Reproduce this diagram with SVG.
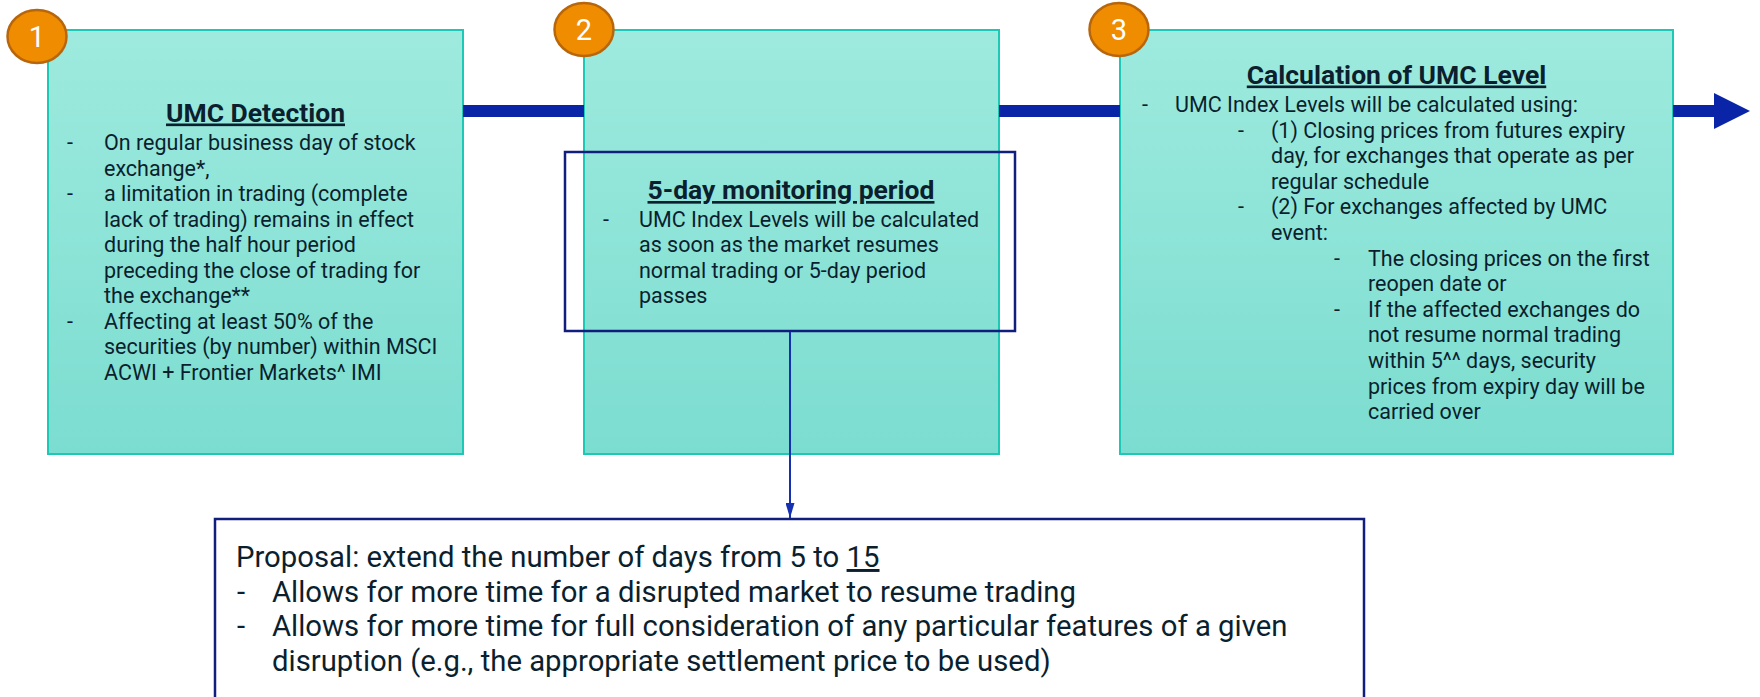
<svg xmlns="http://www.w3.org/2000/svg" width="1760" height="697" viewBox="0 0 1760 697">
  <style>
    .box { fill: url(#teal); stroke: #1ec8b6; stroke-width: 2; }
    .frame { fill: none; stroke: #101f7e; stroke-width: 2.5; }
    .badge { fill: #f08c00; stroke: #b8660c; stroke-width: 2.5; }
    .num { font-family: Roboto, "Liberation Sans", sans-serif; font-size: 29px; fill: #ffffff; text-anchor: middle; }
    .title { font-family: Roboto, "Liberation Sans", sans-serif; font-size: 26.5px; font-weight: bold; fill: #0b1f2e; text-anchor: middle; text-decoration: underline; }
    .body { font-family: Roboto, "Liberation Sans", sans-serif; font-size: 21.5px; fill: #0b1f2e; }
    .prop { font-family: Roboto, "Liberation Sans", sans-serif; font-size: 29.3px; fill: #0b1f2e; }
    .flow { stroke: #0a24a8; stroke-width: 12; fill: none; }
    .link { stroke: #1530b0; stroke-width: 2; fill: none; }
  </style>
  <defs>
    <linearGradient id="teal" x1="0" y1="0" x2="0" y2="1">
      <stop offset="0" stop-color="#9eeade"/>
      <stop offset="1" stop-color="#7bddd0"/>
    </linearGradient>
    <marker id="tip" viewBox="0 0 15 9" refX="15" refY="4.5" markerWidth="15" markerHeight="9" markerUnits="userSpaceOnUse" orient="auto">
      <path d="M0,0 L15,4.5 L0,9 Z" fill="#1530b0"/>
    </marker>
  </defs>

  <!-- step 1 -->
  <g id="step1">
    <rect class="box" x="48" y="30" width="415" height="424"/>
    <text class="title" x="255.5" y="121.5">UMC Detection</text>
    <g class="body">
      <text x="67" y="150">-</text>
      <text x="104" y="150">On regular business day of stock</text>
      <text x="104" y="175.5">exchange*,</text>
      <text x="67" y="201">-</text>
      <text x="104" y="201">a limitation in trading (complete</text>
      <text x="104" y="226.5">lack of trading) remains in effect</text>
      <text x="104" y="252">during the half hour period</text>
      <text x="104" y="277.5">preceding the close of trading for</text>
      <text x="104" y="303">the exchange**</text>
      <text x="67" y="328.5">-</text>
      <text x="104" y="328.5">Affecting at least 50% of the</text>
      <text x="104" y="354">securities (by number) within MSCI</text>
      <text x="104" y="379.5">ACWI + Frontier Markets^ IMI</text>
    </g>
    <ellipse class="badge" cx="37" cy="36.5" rx="29.5" ry="26.5"/>
    <text class="num" x="37" y="46.5">1</text>
  </g>

  <!-- step 2 -->
  <g id="step2">
    <rect class="box" x="584" y="30" width="415" height="424"/>
    <ellipse class="badge" cx="584" cy="29.5" rx="29.5" ry="26.5"/>
    <text class="num" x="584" y="39.5">2</text>
  </g>

  <!-- monitoring period frame -->
  <g id="monitoring">
    <rect class="frame" x="565" y="152" width="450" height="179"/>
    <text class="title" x="791" y="199">5-day monitoring period</text>
    <g class="body">
      <text x="603" y="226.7">-</text>
      <text x="639" y="226.7">UMC Index Levels will be calculated</text>
      <text x="639" y="252.3">as soon as the market resumes</text>
      <text x="639" y="277.8">normal trading or 5-day period</text>
      <text x="639" y="303.3">passes</text>
    </g>
  </g>

  <!-- step 3 -->
  <g id="step3">
    <rect class="box" x="1120" y="30" width="553" height="424"/>
    <text class="title" x="1396.5" y="83.5">Calculation of UMC Level</text>
    <g class="body">
      <text x="1142" y="111.7">-</text>
      <text x="1175" y="111.7">UMC Index Levels will be calculated using:</text>
      <text x="1238" y="137.5">-</text>
      <text x="1271" y="137.5">(1) Closing prices from futures expiry</text>
      <text x="1271" y="163.1">day, for exchanges that operate as per</text>
      <text x="1271" y="188.8">regular schedule</text>
      <text x="1238" y="214.3">-</text>
      <text x="1271" y="214.3">(2) For exchanges affected by UMC</text>
      <text x="1271" y="240">event:</text>
      <text x="1334" y="265.6">-</text>
      <text x="1368" y="265.6">The closing prices on the first</text>
      <text x="1368" y="291.2">reopen date or</text>
      <text x="1334" y="316.7">-</text>
      <text x="1368" y="316.7">If the affected exchanges do</text>
      <text x="1368" y="342.3">not resume normal trading</text>
      <text x="1368" y="368">within 5^^ days, security</text>
      <text x="1368" y="393.6">prices from expiry day will be</text>
      <text x="1368" y="419.2">carried over</text>
    </g>
    <ellipse class="badge" cx="1119" cy="29.5" rx="29.5" ry="26.5"/>
    <text class="num" x="1119" y="39.5">3</text>
  </g>

  <!-- proposal -->
  <g id="proposal">
    <rect class="frame" x="215" y="519" width="1149" height="200"/>
    <g class="prop">
      <text x="236" y="567">Proposal: extend the number of days from 5 to <tspan text-decoration="underline">15</tspan></text>
      <text x="237" y="601.5">-</text>
      <text x="272" y="601.5">Allows for more time for a disrupted market to resume trading</text>
      <text x="237" y="636">-</text>
      <text x="272" y="636">Allows for more time for full consideration of any particular features of a given</text>
      <text x="272" y="670.5">disruption (e.g., the appropriate settlement price to be used)</text>
    </g>
  </g>

  <!-- connectors -->
  <g id="connectors">
    <line class="flow" x1="463" y1="111" x2="584" y2="111"/>
    <line class="flow" x1="999" y1="111" x2="1120" y2="111"/>
    <line class="flow" x1="1673" y1="111" x2="1715" y2="111"/>
    <path d="M1714,93 L1750,111 L1714,129 Z" fill="#0a24a8"/>
    <line class="link" x1="790" y1="332" x2="790" y2="518" marker-end="url(#tip)"/>
  </g>
</svg>
